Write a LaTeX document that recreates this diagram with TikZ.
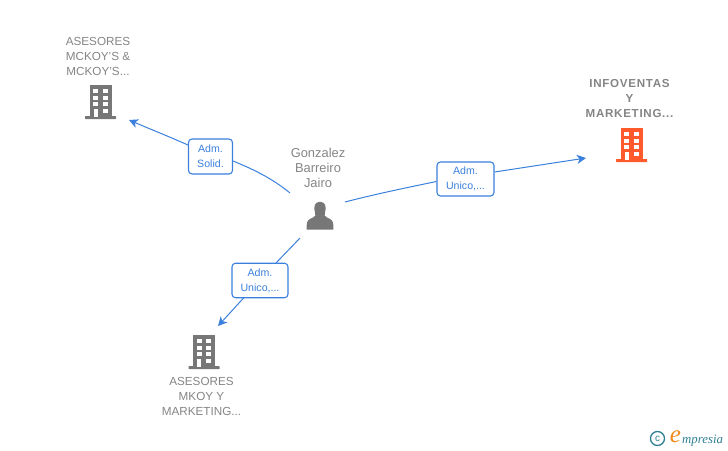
\documentclass[tikz,border=0pt]{standalone}
\usepackage{fontspec}
\setmainfont{Liberation Sans}
\newfontfamily\logofont{Liberation Serif}
\newfontfamily\widefont[LetterSpace=6]{Liberation Sans}
\usetikzlibrary{arrows.meta}
\definecolor{linkblue}{HTML}{3A80DC}
\definecolor{labelgray}{HTML}{858585}
\definecolor{icongray}{HTML}{777777}
\definecolor{iconorange}{HTML}{FF5A2B}
\definecolor{logoteal}{HTML}{2F7F93}
\definecolor{logoorange}{HTML}{F08A1D}
\tikzset{
  x=1pt,y=-1pt,
  namelabel/.style={align=center,text=labelgray,font=\fontsize{11.7}{15}\selectfont,inner sep=0pt},
  boldlabel/.style={namelabel,font=\widefont\fontsize{11.6}{15}\selectfont\bfseries},
  rolebox/.style={draw=linkblue,line width=1.1pt,rounded corners=3.5pt,top color=white,bottom color=white,
    align=center,text=linkblue,font=\fontsize{10.6}{15}\selectfont,inner sep=0pt},
  link/.style={draw=linkblue,line width=1pt},
  arrowlink/.style={link,-{Stealth[length=9pt,width=9pt,inset=2.5pt]}},
  pics/building/.style={code={
    \fill[#1] (-11,-34) rectangle (11,-2);
    \fill[#1,rounded corners=0.5pt] (-15.5,-3) rectangle (15.5,0);
    \foreach \wy in {-30,-23.3,-16.7}{
      \fill[white] (-7.5,\wy) rectangle (-2.5,\wy+4);
      \fill[white] (2.2,\wy) rectangle (7.2,\wy+4);
    }
    \fill[white] (-7,-10.5) rectangle (-3,-2.5);
    \fill[white] (2.2,-10.5) rectangle (7.2,-6);
  }},
}
\begin{document}
\begin{tikzpicture}
\useasboundingbox (0,0) rectangle (728,450);
% texts
\node[namelabel] (nameA) at (98,56.5) {ASESORES\\MCKOY'S \&\\MCKOY'S...};
\node[boldlabel] (nameB) at (629.5,98.5) {INFOVENTAS\\Y\\MARKETING...};
\node[namelabel] (nameC) at (201.5,396.5) {ASESORES\\MKOY Y\\MARKETING...};
\node[namelabel,font=\fontsize{12.9}{15}\selectfont] (nameP) at (318,167.5) {Gonzalez\\Barreiro\\Jairo};
% icons
\pic at (100.5,119) {building=icongray};
\pic at (631.5,162) {building=iconorange};
\pic at (204,369) {building=icongray};
% person
\fill[icongray] (320,201.7) .. controls (314,201.7) and (313.5,208) .. (315,212.5)
  .. controls (316,215) and (315.5,216.5) .. (313,217.5)
  .. controls (309,219) and (307,220.5) .. (306.7,225)
  -- (306.7,229.7) -- (333.3,229.7) -- (333.3,225)
  .. controls (333,220.5) and (331,219) .. (327,217.5)
  .. controls (324.5,216.5) and (324,215) .. (325,212.5)
  .. controls (326.5,208) and (326,201.7) .. (320,201.7) -- cycle;
% anchors
\coordinate (pA) at (290,193);
\coordinate (pB) at (345,202);
\coordinate (pC) at (300,238);
\coordinate (tA) at (129,120);
\coordinate (tB) at (586,158);
\coordinate (tC) at (218,326);
% role boxes
\node[rolebox,minimum width=44pt,minimum height=35pt] (roleA) at (210.5,156.5) {Adm.\\Solid.};
\node[rolebox,minimum width=57pt,minimum height=34pt] (roleB) at (465.5,179) {Adm.\\Unico,...};
\node[rolebox,minimum width=56pt,minimum height=34.5pt] (roleC) at (260,280.5) {Adm.\\Unico,...};
% connectors
\path[link] (pA) .. controls (273,179) and (255,170) .. (roleA.east |- 0,161);
\path[arrowlink] (roleA.west |- 0,145) .. controls (170,137) and (150,129) .. (tA);
\path[link] (pB) .. controls (380,193) and (410,187) .. (roleB.west |- 0,181.5);
\path[arrowlink] (roleB.east |- 0,172) -- (tB);
\path[link] (pC) -- (276,263);
\path[arrowlink] (244,297.5) -- (tC);
% logo
\node[circle,draw=logoteal,line width=1.3pt,minimum size=14pt,inner sep=0pt,text=logoteal,font=\fontsize{10}{10}\selectfont] (logoC) at (657.5,438.5) {c};
\node[text=logoorange,font=\logofont\itshape\fontsize{25}{25}\selectfont,inner sep=0pt] (logoE) at (675.5,436.5) {e};
\node[anchor=base west,text=logoteal,font=\logofont\itshape\fontsize{12.8}{14}\selectfont,inner sep=0pt] (logoT) at (682,443) {mpresia};
\end{tikzpicture}
\end{document}
